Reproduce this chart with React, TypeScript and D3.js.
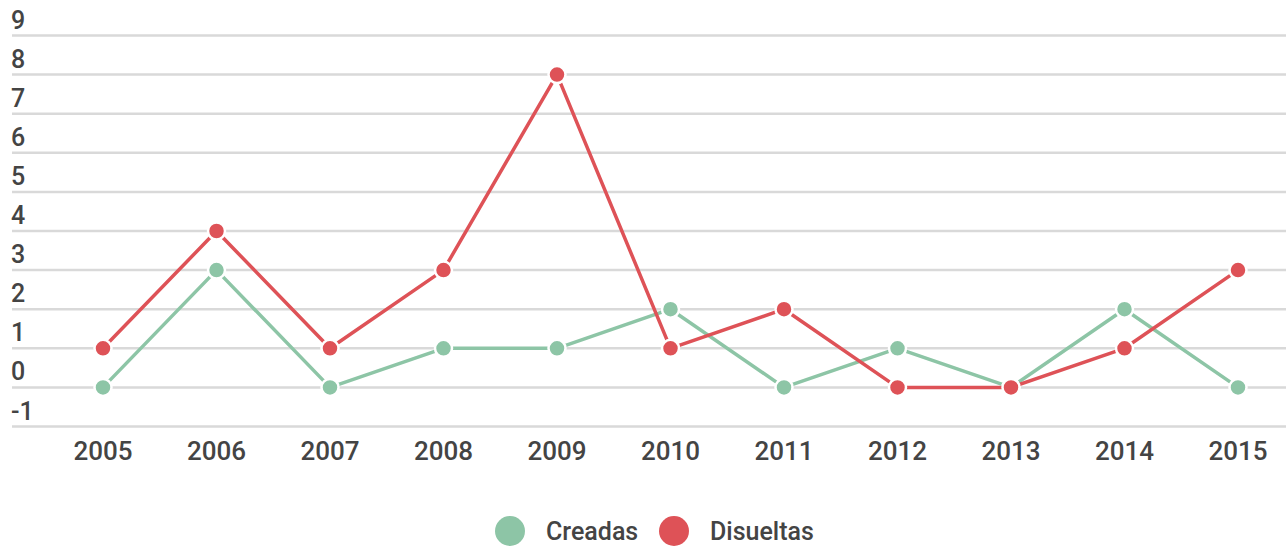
import React from "react";
import * as d3 from "d3";

const years = ["2005","2006","2007","2008","2009","2010","2011","2012","2013","2014","2015"];
const creadas = [0, 3, 0, 1, 1, 2, 0, 1, 0, 2, 0];
const disueltas = [1, 4, 1, 3, 8, 1, 2, 0, 0, 1, 3];
const yTicks = [-1, 0, 1, 2, 3, 4, 5, 6, 7, 8, 9];

const series = [
  { name: "Creadas", values: creadas, color: "#8dc5a6" },
  { name: "Disueltas", values: disueltas, color: "#de5257" },
];

const W = 1286, H = 546;

export default function App() {
  const x = d3.scalePoint<string>().domain(years).range([103, 1238]);
  const y = d3.scaleLinear().domain([-1, 9]).range([426.5, 35.5]);
  const line = d3.line<number>().x((_, i) => x(years[i])!).y((d) => y(d));
  const font = "Roboto, 'Noto Sans', sans-serif";
  return (
    <svg width={W} height={H} style={{ position: "absolute", left: 0, top: 0, background: "#fff" }}>
      {yTicks.map((t) => (
        <g key={t}>
          <line x1={12} x2={W} y1={y(t)} y2={y(t)} stroke="#d9d9d9" strokeWidth={2.5} />
          <text x={11} y={y(t) - 7} fontSize={25} fontWeight={500} fill="#444" fontFamily={font}>{t}</text>
        </g>
      ))}
      {years.map((yr) => (
        <text key={yr} x={x(yr)} y={460} textAnchor="middle" fontSize={26} fontWeight={500} fill="#444" fontFamily={font}>{yr}</text>
      ))}
      {series.map((s) => (
        <g key={s.name}>
          <path d={line(s.values)!} fill="none" stroke={s.color} strokeWidth={3.5} strokeLinejoin="round" />
          {s.values.map((v, i) => (
            <circle key={i} cx={x(years[i])} cy={y(v)} r={8.5} fill={s.color} stroke="#fff" strokeWidth={2.5} />
          ))}
        </g>
      ))}
      <g fontFamily={font} fontSize={25} fontWeight={500} fill="#444">
        <circle cx={510} cy={531} r={15} fill={series[0].color} />
        <text x={546} y={540}>{series[0].name}</text>
        <circle cx={674} cy={531} r={15} fill={series[1].color} />
        <text x={710} y={540}>{series[1].name}</text>
      </g>
    </svg>
  );
}
